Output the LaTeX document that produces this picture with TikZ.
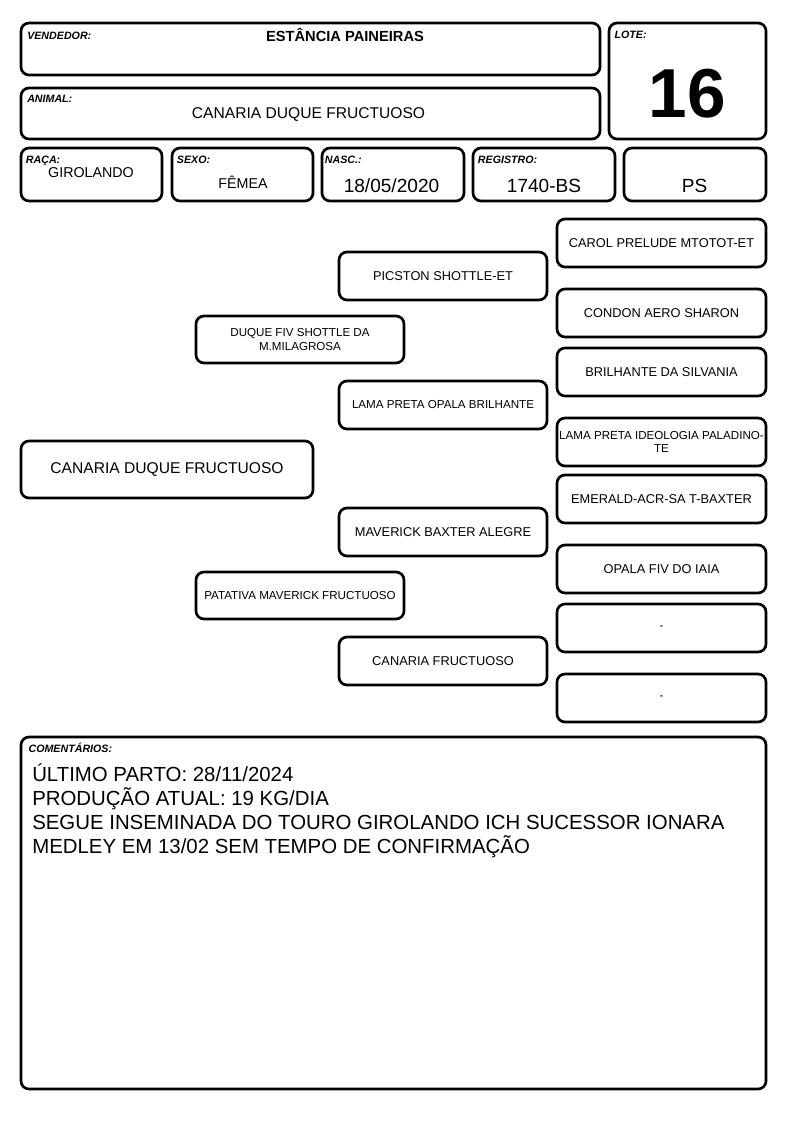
\documentclass[tikz,border=0pt]{standalone}
\usepackage{fontspec}
\setmainfont{Liberation Sans}
\begin{document}
\begin{tikzpicture}[x=0.75pt,y=-0.75pt]
\tikzstyle{caixa}=[draw=black,line width=2pt,rounded corners=6pt,inner sep=0pt]
\tikzstyle{rotulo}=[anchor=base west,inner sep=0pt,font=\fontsize{8}{9}\selectfont\bfseries\itshape]
\tikzstyle{valor}=[anchor=base,inner sep=0pt,font=\fontsize{10.7}{12}\selectfont]
\tikzstyle{ped}=[caixa,minimum width=156pt,minimum height=36pt,align=center,font=\fontsize{9.6}{11}\selectfont]
\tikzstyle{miudo}=[font=\fontsize{8.7}{10}\selectfont]
\useasboundingbox (0,0) rectangle (794,1123);
% cabecalho
\node[caixa,minimum width=434.25pt,minimum height=39pt] (vend) at (310.5,49) {};
\node[caixa,minimum width=117.75pt,minimum height=87pt] (lote) at (687.5,81) {};
\node[caixa,minimum width=434.25pt,minimum height=38.25pt] (anim) at (310.5,113.5) {};
\node[caixa,minimum width=105.75pt,minimum height=39.75pt] (raca) at (91.5,174.5) {};
\node[caixa,minimum width=105.75pt,minimum height=39.75pt] (sexo) at (242.5,174.5) {};
\node[caixa,minimum width=106.5pt,minimum height=39.75pt] (nasc) at (393,174.5) {};
\node[caixa,minimum width=106.5pt,minimum height=39.75pt] (reg) at (544,174.5) {};
\node[caixa,minimum width=106.5pt,minimum height=39.75pt] (cat) at (695,174.5) {};
\node[rotulo] (tvend) at ([xshift=5.5pt,yshift=-13.5pt]vend.north west) {VENDEDOR:};
\node[rotulo] (tlote) at ([xshift=5pt,yshift=-12.75pt]lote.north west) {LOTE:};
\node[rotulo] (tanim) at ([xshift=5.5pt,yshift=-12pt]anim.north west) {ANIMAL:};
\node[rotulo] (traca) at ([xshift=4.5pt,yshift=-12.75pt]raca.north west) {RAÇA:};
\node[rotulo] (tsexo) at ([xshift=4.5pt,yshift=-12.75pt]sexo.north west) {SEXO:};
\node[rotulo] (tnasc) at ([xshift=3pt,yshift=-12.75pt]nasc.north west) {NASC.:};
\node[rotulo] (treg) at ([xshift=4.5pt,yshift=-12.75pt]reg.north west) {REGISTRO:};
\node[valor,font=\fontsize{11}{13}\selectfont\bfseries] (vvend) at (345,42) {ESTÂNCIA PAINEIRAS};
\node[valor,font=\fontsize{52}{52}\selectfont\bfseries] (vlote) at (687.5,118) {16};
\node[valor,font=\fontsize{11.7}{13}\selectfont] (vanim) at (308.5,119) {CANARIA DUQUE FRUCTUOSO};
\node[valor] (vraca) at (91,178) {GIROLANDO};
\node[valor] (vsexo) at (243,189) {FÊMEA};
\node[valor,font=\fontsize{14.3}{16}\selectfont] (vnasc) at (391.5,193) {18/05/2020};
\node[valor,font=\fontsize{14.3}{16}\selectfont] (vreg) at (544,193) {1740-BS};
\node[valor,font=\fontsize{14.3}{16}\selectfont] (vcat) at (694.5,193) {PS};
% genealogia
\node[caixa,minimum width=219pt,minimum height=42.75pt,font=\fontsize{11.7}{13}\selectfont] (filho) at (167,469.5) {CANARIA DUQUE FRUCTUOSO};
\node[ped,miudo,minimum height=35.25pt] (pai) at (300,339.5) {DUQUE FIV SHOTTLE DA\\M.MILAGROSA};
\node[ped,miudo,minimum height=35.25pt] (mae) at (300,595.5) {PATATIVA MAVERICK FRUCTUOSO};
\node[ped] (avp) at (443,276) {PICSTON SHOTTLE-ET};
\node[ped,miudo] (avpm) at (443,405) {LAMA PRETA OPALA BRILHANTE};
\node[ped] (avm) at (443,532) {MAVERICK BAXTER ALEGRE};
\node[ped] (avmm) at (443,661) {CANARIA FRUCTUOSO};
\node[ped,minimum width=156.75pt] (b1) at (661.5,243) {CAROL PRELUDE MTOTOT-ET};
\node[ped,minimum width=156.75pt] (b2) at (661.5,313) {CONDON AERO SHARON};
\node[ped,minimum width=156.75pt] (b3) at (661.5,372) {BRILHANTE DA SILVANIA};
\node[ped,miudo,minimum width=156.75pt] (b4) at (661.5,442) {LAMA PRETA IDEOLOGIA PALADINO-\\TE};
\node[ped,minimum width=156.75pt] (b5) at (661.5,499) {EMERALD-ACR-SA T-BAXTER};
\node[ped,minimum width=156.75pt] (b6) at (661.5,569) {OPALA FIV DO IAIA};
\node[ped,miudo,minimum width=156.75pt] (b7) at (661.5,628) {-};
\node[ped,miudo,minimum width=156.75pt] (b8) at (661.5,698) {-};
% comentarios
\node[caixa,minimum width=558.75pt,minimum height=264pt] (coment) at (393.5,913) {};
\node[rotulo] (tcoment) at ([xshift=6.5pt,yshift=-12.75pt]coment.north west) {COMENTÁRIOS:};
\node[anchor=base west,align=left,inner sep=0pt,font=\fontsize{15.3}{18}\selectfont] (vcoment) at (32,853) {ÚLTIMO PARTO: 28/11/2024\\PRODUÇÃO ATUAL: 19 KG/DIA\\SEGUE INSEMINADA DO TOURO GIROLANDO ICH SUCESSOR IONARA\\MEDLEY EM 13/02 SEM TEMPO DE CONFIRMAÇÃO};
\end{tikzpicture}
\end{document}
